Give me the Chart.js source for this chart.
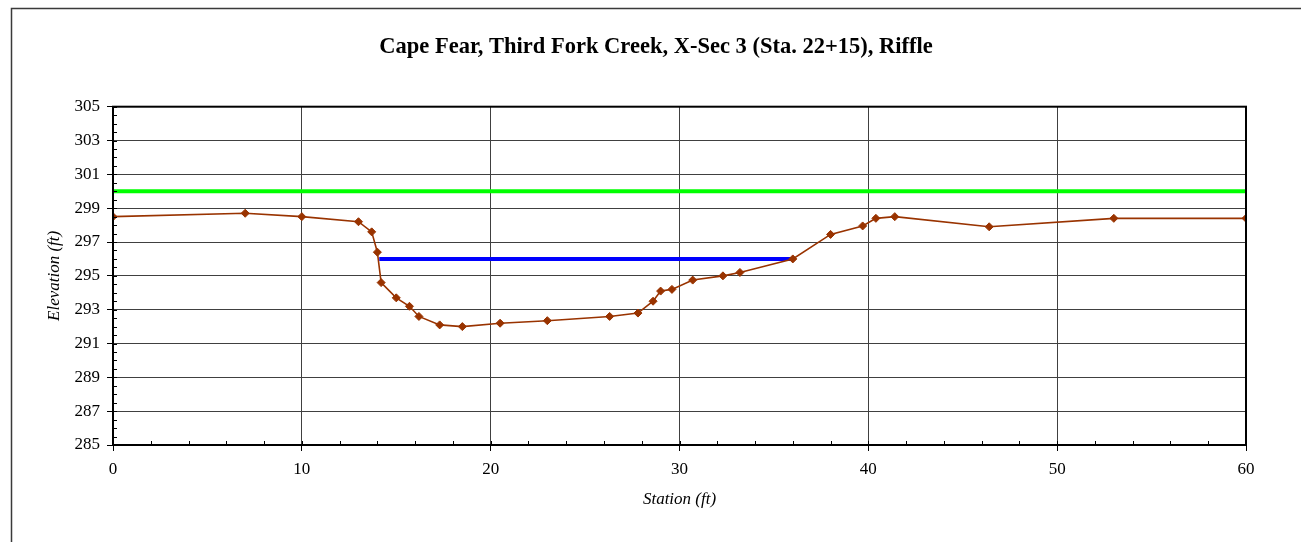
<!DOCTYPE html>
<html>
<head>
<meta charset="utf-8">
<script src="https://cdn.jsdelivr.net/npm/chart.js@4.4.0/dist/chart.umd.min.js"></script>
<style>
  html, body { margin: 0; padding: 0; background: #fff; overflow: hidden; }
  canvas { display: block; }
</style>
</head>
<body>
<canvas id="xsec" width="1301" height="542"></canvas>
<script>
// Surveyed ground profile
const stations = [0, 7, 10, 13, 13.7, 14, 14.2, 15, 15.7, 16.2, 17.3, 18.5, 20.5, 23, 26.3, 27.8,
  28.6, 29, 29.6, 30.7, 32.3, 33.2, 36, 38, 39.7, 40.4, 41.4, 46.4, 53, 60];
const elevations = [298.5, 298.7, 298.5, 298.2, 297.6, 296.4, 294.6, 293.7, 293.2, 292.6, 292.1, 292.0,
  292.2, 292.35, 292.6, 292.8, 293.5, 294.1, 294.2, 294.75, 295.0, 295.2, 296.0, 297.45, 297.95,
  298.4, 298.5, 297.9, 298.4, 298.4];

// Bankfull (blue) and flood-prone (green) lines
const bankfullStations = [14.1, 36];
const bankfullElev = [296, 296];
const floodStations = [0, 60];
const floodElev = [300, 300];

const FONT = "'Liberation Serif', 'Times New Roman', serif";

function toPoints(xs, ys) {
  return xs.map((x, i) => ({ x: x, y: ys[i] }));
}

// Outer frame, plot border and the small inside ticks
const framePlugin = {
  id: 'frame',
  beforeDraw(chart) {
    const ctx = chart.ctx;
    ctx.save();
    ctx.fillStyle = '#fff';
    ctx.fillRect(0, 0, chart.width, chart.height);
    ctx.strokeStyle = '#3a3a3a';
    ctx.lineWidth = 1.5;
    ctx.beginPath();
    ctx.moveTo(11.5, chart.height + 2);
    ctx.lineTo(11.5, 8.5);
    ctx.lineTo(chart.width + 2, 8.5);
    ctx.stroke();
    ctx.restore();
  },
  afterDraw(chart) {
    const ctx = chart.ctx;
    const a = chart.chartArea;
    const xs = chart.scales.x;
    const ys = chart.scales.y;
    ctx.save();
    ctx.strokeStyle = '#000';
    ctx.lineWidth = 1;
    ctx.beginPath();
    for (let v = 285; v <= 305; v += 0.5) {
      const py = Math.round(ys.getPixelForValue(v)) + 0.5;
      ctx.moveTo(a.left, py);
      ctx.lineTo(a.left + 4, py);
    }
    for (let v = 0; v <= 60; v += 2) {
      const px = Math.round(xs.getPixelForValue(v)) + 0.5;
      ctx.moveTo(px, a.bottom);
      ctx.lineTo(px, a.bottom - 4);
    }
    ctx.stroke();
    ctx.lineWidth = 2;
    ctx.strokeRect(a.left, a.top, a.right - a.left, a.bottom - a.top);
    ctx.restore();
  }
};

new Chart(document.getElementById('xsec').getContext('2d'), {
  type: 'line',
  data: {
    datasets: [
      {
        label: 'Ground',
        data: toPoints(stations, elevations),
        borderColor: '#993300',
        backgroundColor: '#993300',
        borderWidth: 1.6,
        pointStyle: 'rectRot',
        pointRadius: 4,
        pointBorderWidth: 1,
        tension: 0,
      },
      {
        label: 'Bankfull',
        data: toPoints(bankfullStations, bankfullElev),
        borderColor: '#0000ff',
        borderWidth: 4,
        pointRadius: 0,
      },
      {
        label: 'Flood prone',
        data: toPoints(floodStations, floodElev),
        borderColor: '#00ff00',
        borderWidth: 4,
        pointRadius: 0,
      },
    ],
  },
  options: {
    responsive: false,
    animation: false,
    // left padding shifts the centred title to match the original
    layout: { padding: { left: 66, right: 55, top: 0, bottom: 0 } },
    plugins: {
      legend: { display: false },
      tooltip: { enabled: false },
      title: {
        display: true,
        text: 'Cape Fear, Third Fork Creek, X-Sec 3 (Sta. 22+15), Riffle',
        color: '#000',
        font: { family: FONT, size: 22.5, weight: 'bold' },
        padding: { top: 33.5, bottom: 46.2 },
      },
    },
    scales: {
      x: {
        type: 'linear',
        min: 0,
        max: 60,
        afterFit(scale) { scale.height = 97; },
        ticks: {
          stepSize: 10,
          color: '#000',
          padding: 8,
          font: { family: FONT, size: 17 },
          maxRotation: 0,
        },
        grid: { color: '#404040', lineWidth: 1, tickLength: 6, tickColor: '#000' },
        border: { color: '#000', width: 2 },
        title: {
          display: true,
          text: 'Station (ft)',
          color: '#000',
          font: { family: FONT, size: 17, style: 'italic' },
          padding: { top: 0, bottom: 32 },
        },
      },
      y: {
        min: 285,
        max: 305,
        afterFit(scale) { scale.width = 47; },
        ticks: {
          stepSize: 2,
          color: '#000',
          padding: 7,
          font: { family: FONT, size: 17 },
        },
        grid: { color: '#404040', lineWidth: 1, tickLength: 6, tickColor: '#000' },
        border: { color: '#000', width: 2 },
        title: {
          display: true,
          text: 'Elevation (ft)',
          color: '#000',
          font: { family: FONT, size: 17, style: 'italic' },
          padding: { top: -21.2, bottom: 0 },
        },
      },
    },
  },
  plugins: [framePlugin],
});
</script>
</body>
</html>
